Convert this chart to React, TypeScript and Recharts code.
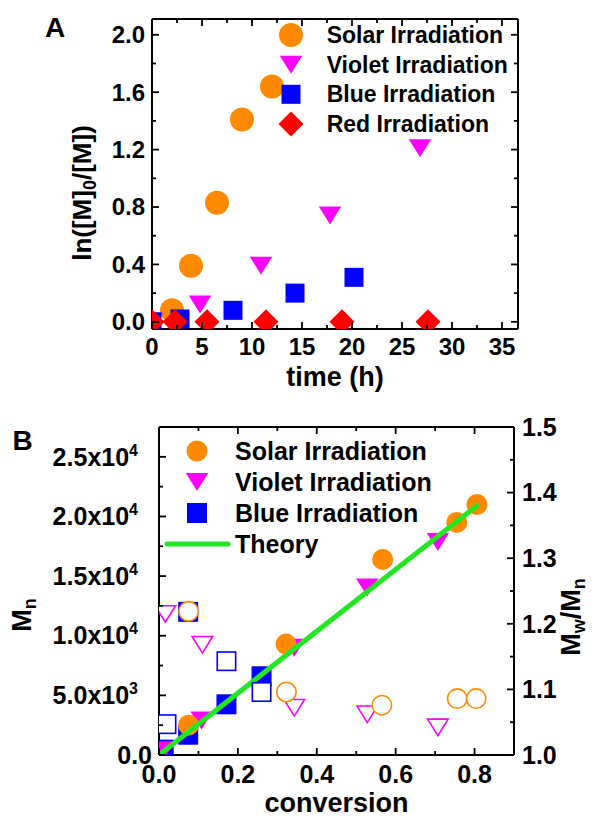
import { ScatterChart, Scatter, XAxis, YAxis } from "recharts";

const FONT = "Arial, 'Liberation Sans', Helvetica, sans-serif";
const ORANGE = "#ff8a00";
const MAGENTA = "#ff00ff";
const BLUE = "#0000ff";
const RED = "#ff0000";
const GREEN = "#22e622";

// panel A: ln([M]0/[M]) vs time (h)
const solarTime = [2.0, 3.9, 6.5, 9.0, 12.0];
const solarLn = [0.08, 0.39, 0.83, 1.41, 1.64];
const violetTime = [0, 4.8, 10.9, 17.8, 26.8];
const violetLn = [0, 0.12, 0.39, 0.74, 1.21];
const blueTime = [0, 2.8, 8.1, 14.3, 20.2];
const blueLn = [0, 0.02, 0.08, 0.2, 0.31];
const redTime = [0, 2.3, 5.5, 11.4, 19.0, 27.6];
const redLn = [0, 0, 0, 0, 0, 0];

const aXTicks = [0, 2.5, 5, 7.5, 10, 12.5, 15, 17.5, 20, 22.5, 25, 27.5, 30, 32.5, 35];
const aYTicks = [0, 0.2, 0.4, 0.6, 0.8, 1.0, 1.2, 1.4, 1.6, 1.8, 2.0];

// panel B: Mn and Mw/Mn vs conversion
const solarConv = [0.075, 0.322, 0.567, 0.755, 0.806];
const solarMn = [2500, 9300, 16400, 19500, 21000];
const solarPdiConv = [0.075, 0.323, 0.565, 0.756, 0.804];
const solarPdi = [1.219, 1.096, 1.076, 1.086, 1.086];

const violetConv = [0.012, 0.108, 0.343, 0.528, 0.707];
const violetMn = [400, 2900, 9000, 14050, 17850];
const violetPdiConv = [0.016, 0.11, 0.343, 0.528, 0.707];
const violetPdi = [1.215, 1.168, 1.072, 1.062, 1.042];

const blueConv = [0.012, 0.074, 0.171, 0.26, 0.074];
const blueMn = [450, 1700, 4250, 6600, 12000];
const bluePdiConv = [0.019, 0.171, 0.26];
const bluePdi = [1.047, 1.143, 1.096];

const theoryConv = [0, 0.81];
const theoryMn = [0, 21000];

const bXTicks = [0, 0.1, 0.2, 0.3, 0.4, 0.5, 0.6, 0.7, 0.8];
const bMnTicks = [0, 2500, 5000, 7500, 10000, 12500, 15000, 17500, 20000, 22500, 25000];
const bPdiTicks = [1.0, 1.05, 1.1, 1.15, 1.2, 1.25, 1.3, 1.35, 1.4, 1.45, 1.5];

const zip = (xs: number[], ys: number[]) => xs.map((x, i) => ({ x, y: ys[i] }));

function Marker({ cx, cy, kind, color, open, size }: any) {
  const sw = open ? 1.6 : 0;
  const s = open ? size - sw : size;
  const h = s / 2;
  const common = { fill: open ? "#fff" : color, stroke: open ? color : "none", strokeWidth: sw };
  if (kind === "circle") return <circle cx={cx} cy={cy} r={h} {...common} />;
  if (kind === "square") return <rect x={cx - h} y={cy - h} width={s} height={s} {...common} />;
  if (kind === "down") {
    const w = h * 1.12;
    const t = h * 0.9;
    return <polygon points={`${cx - w},${cy - t} ${cx + w},${cy - t} ${cx},${cy + t}`} {...common} />;
  }
  return <polygon points={`${cx},${cy - h} ${cx + h},${cy} ${cx},${cy + h} ${cx - h},${cy}`} {...common} />;
}

const shapeOf = (kind: string, color: string, size: number, open = false) => (p: any) =>
  <Marker cx={p.cx} cy={p.cy} kind={kind} color={color} size={size} open={open} />;

// inward ticks (Origin style), labels outside
function makeTick(side: string, fmt: ((v: number) => any) | null, fontSize: number, gap: number) {
  return (props: any) => {
    const { x, y, payload, index } = props;
    const major = index % 2 === 0;
    const len = major ? 7 : 4;
    let line;
    if (side === "bottom") line = <line x1={x} y1={y} x2={x} y2={y - len} />;
    else if (side === "top") line = <line x1={x} y1={y} x2={x} y2={y + len} />;
    else if (side === "left") line = <line x1={x} y1={y} x2={x + len} y2={y} />;
    else line = <line x1={x} y1={y} x2={x - len} y2={y} />;
    let label = null;
    if (fmt && major) {
      const txt = fmt(payload.value);
      const tp = { fontFamily: FONT, fontWeight: 700, fontSize, fill: "#000" };
      if (side === "bottom")
        label = <text x={x} y={y + gap} textAnchor="middle" {...tp}>{txt}</text>;
      else if (side === "left")
        label = <text x={x - (typeof txt === "string" ? gap : gap + 14)} y={y} dy="0.35em" textAnchor="end" {...tp}>{txt}</text>;
      else if (side === "right")
        label = <text x={x + gap} y={y} dy="0.35em" textAnchor="start" {...tp}>{txt}</text>;
    }
    return (
      <g>
        <g stroke="#000" strokeWidth={1.8}>{line}</g>
        {label}
      </g>
    );
  };
}

const sci = (v: number) => {
  if (v === 0) return "0.0";
  const e = Math.floor(Math.log10(v));
  const m = (v / Math.pow(10, e)).toFixed(1);
  return [
    <tspan key="m">{m}x10</tspan>,
    <tspan key="e" fontSize={16} dy={-10}>{e}</tspan>,
  ];
};

const AXIS = { stroke: "#000", strokeWidth: 2 };

const aSeries = [
  { name: "Solar Irradiation", kind: "circle", color: ORANGE, size: 24, data: zip(solarTime, solarLn) },
  { name: "Violet Irradiation", kind: "down", color: MAGENTA, size: 20, data: zip(violetTime, violetLn) },
  { name: "Blue Irradiation", kind: "square", color: BLUE, size: 19, data: zip(blueTime, blueLn) },
  { name: "Red Irradiation", kind: "diamond", color: RED, size: 25, data: zip(redTime, redLn) },
];

const bFilled = [
  { name: "Blue Irradiation", kind: "square", color: BLUE, size: 20, data: zip(blueConv, blueMn) },
  { name: "Violet Irradiation", kind: "down", color: MAGENTA, size: 20, data: zip(violetConv, violetMn) },
  { name: "Solar Irradiation", kind: "circle", color: ORANGE, size: 21, data: zip(solarConv, solarMn) },
];
const bOpen = [
  { kind: "square", color: BLUE, size: 20, data: zip(bluePdiConv, bluePdi) },
  { kind: "down", color: MAGENTA, size: 20, data: zip(violetPdiConv, violetPdi) },
  { kind: "circle", color: ORANGE, size: 21, data: zip(solarPdiConv, solarPdi) },
];

function PanelA() {
  return (
    <ScatterChart width={595} height={400} margin={{ top: 0, right: 0, bottom: 0, left: 0 }}>
      <XAxis xAxisId="b" orientation="bottom" type="number" dataKey="x" domain={[0, 36.6]} ticks={aXTicks}
        interval={0} height={71} tickSize={0} tickMargin={0} allowDataOverflow axisLine={AXIS} tickLine={false}
        tick={makeTick("bottom", (v) => String(v), 24, 26)} />
      <XAxis xAxisId="t" orientation="top" type="number" dataKey="x" domain={[0, 36.6]} ticks={aXTicks}
        interval={0} height={19} tickSize={0} tickMargin={0} allowDataOverflow axisLine={AXIS} tickLine={false}
        tick={makeTick("top", null, 24, 0)} />
      <YAxis yAxisId="l" orientation="left" type="number" dataKey="y" domain={[-0.05, 2.11]} ticks={aYTicks}
        interval={0} width={152} tickSize={0} tickMargin={0} allowDataOverflow axisLine={AXIS} tickLine={false}
        tick={makeTick("left", (v) => v.toFixed(1), 24, 7)} />
      <YAxis yAxisId="r" orientation="right" type="number" dataKey="y" domain={[-0.05, 2.11]} ticks={aYTicks}
        interval={0} width={77} tickSize={0} tickMargin={0} allowDataOverflow axisLine={AXIS} tickLine={false}
        tick={makeTick("right", null, 24, 0)} />
      {aSeries.map((s) => (
        <Scatter key={s.name} name={s.name} xAxisId="b" yAxisId="l" data={s.data}
          shape={shapeOf(s.kind, s.color, s.size)} isAnimationActive={false} />
      ))}
    </ScatterChart>
  );
}

function PanelB() {
  return (
    <ScatterChart width={595} height={418} margin={{ top: 0, right: 0, bottom: 0, left: 0 }}>
      <XAxis xAxisId="b" orientation="bottom" type="number" dataKey="x" domain={[0, 0.9]} ticks={bXTicks}
        interval={0} height={63} tickSize={0} tickMargin={0} allowDataOverflow axisLine={AXIS} tickLine={false}
        tick={makeTick("bottom", (v) => v.toFixed(1), 25, 28)} />
      <XAxis xAxisId="t" orientation="top" type="number" dataKey="x" domain={[0, 0.9]} ticks={bXTicks}
        interval={0} height={27} tickSize={0} tickMargin={0} allowDataOverflow axisLine={AXIS} tickLine={false}
        tick={makeTick("top", null, 25, 0)} />
      <YAxis yAxisId="l" orientation="left" type="number" dataKey="y" domain={[0, 27500]} ticks={bMnTicks}
        interval={0} width={159} tickSize={0} tickMargin={0} allowDataOverflow axisLine={AXIS} tickLine={false}
        tick={makeTick("left", sci, 25, 7)} />
      <YAxis yAxisId="r" orientation="right" type="number" dataKey="y" domain={[1.0, 1.5]} ticks={bPdiTicks}
        interval={0} width={81} tickSize={0} tickMargin={0} allowDataOverflow axisLine={AXIS} tickLine={false}
        tick={makeTick("right", (v) => v.toFixed(1), 25, 8)} />
      {bFilled.map((s) => (
        <Scatter key={"f" + s.name} xAxisId="b" yAxisId="l" data={s.data}
          shape={shapeOf(s.kind, s.color, s.size)} isAnimationActive={false} />
      ))}
      <Scatter xAxisId="b" yAxisId="l" data={zip(theoryConv, theoryMn)} line={{ stroke: GREEN, strokeWidth: 5 }}
        lineType="joint" shape={() => <g />} isAnimationActive={false} />
      {bOpen.map((s) => (
        <Scatter key={"o" + s.kind} xAxisId="b" yAxisId="r" data={s.data}
          shape={shapeOf(s.kind, s.color, s.size, true)} isAnimationActive={false} />
      ))}
    </ScatterChart>
  );
}

const T = { fontFamily: FONT, fontWeight: 700, fill: "#000" } as const;

function Overlay() {
  const aRows = [35, 64.7, 94.3, 124];
  const bRows = [451, 482, 513, 544];
  const bLegend = [bFilled[2], bFilled[1], bFilled[0]];
  return (
    <svg width={595} height={818} style={{ position: "absolute", left: 0, top: 0, pointerEvents: "none" }}>
      <text x={55} y={37} textAnchor="middle" fontSize={28} {...T}>A</text>
      <text x={22.5} y={450} textAnchor="middle" fontSize={28} {...T}>B</text>

      {aSeries.map((s, i) => (
        <g key={s.name}>
          <Marker cx={291} cy={aRows[i]} kind={s.kind} color={s.color} size={s.size} />
          <text x={326.7} y={aRows[i]} dy="0.35em" fontSize={23} {...T}>{s.name}</text>
        </g>
      ))}
      <text x={335} y={386} textAnchor="middle" fontSize={27} {...T}>time (h)</text>
      <text x={91} y={193} textAnchor="middle" fontSize={26} transform="rotate(-90 91 193)" {...T}>
        ln([M]<tspan fontSize={18} dy={5}>0</tspan><tspan dy={-5}>/[M])</tspan>
      </text>

      {bLegend.map((s, i) => (
        <g key={s.name}>
          <Marker cx={197} cy={bRows[i]} kind={s.kind} color={s.color} size={s.size} />
          <text x={235} y={bRows[i]} dy="0.35em" fontSize={25} {...T}>{s.name}</text>
        </g>
      ))}
      <line x1={167} y1={bRows[3]} x2={228} y2={bRows[3]} stroke={GREEN} strokeWidth={5} strokeLinecap="round" />
      <text x={235} y={bRows[3]} dy="0.35em" fontSize={25} {...T}>Theory</text>

      <text x={336.5} y={812} textAnchor="middle" fontSize={27} {...T}>conversion</text>
      <text x={31} y={615} textAnchor="middle" fontSize={27} transform="rotate(-90 31 615)" {...T}>
        M<tspan fontSize={18} dy={5}>n</tspan>
      </text>
      <text x={580} y={617} textAnchor="middle" fontSize={27} transform="rotate(-90 580 617)" {...T}>
        M<tspan fontSize={18} dy={5}>w</tspan><tspan dy={-5}>/M</tspan><tspan fontSize={18} dy={5}>n</tspan>
      </text>
    </svg>
  );
}

export default function App() {
  return (
    <div style={{ position: "absolute", left: 0, top: 0, width: 595, height: 818, background: "#fff" }}>
      <div style={{ position: "absolute", left: 0, top: 0 }}>
        <PanelA />
      </div>
      <div style={{ position: "absolute", left: 0, top: 400 }}>
        <PanelB />
      </div>
      <Overlay />
    </div>
  );
}
